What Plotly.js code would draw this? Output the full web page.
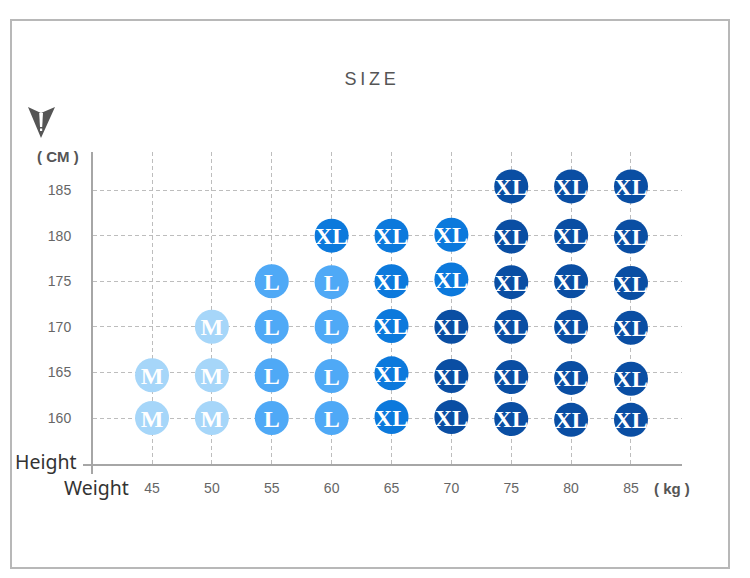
<!DOCTYPE html>
<html>
<head>
<meta charset="utf-8">
<script src="https://cdn.plot.ly/plotly-3.0.1.min.js"></script>
<style>
html,body{margin:0;padding:0;background:#fff}
#chart{width:750px;height:578px}
.gtitle{letter-spacing:3.8px}
.textpoint text{transform:translateY(2.5px)}
</style>
</head>
<body>
<div id="chart"></div>
<script>
const chartTitle = 'SIZE';
const xTicks = [45,50,55,60,65,70,75,80,85];
const yTicks = [160,165,170,175,180,185];

const mWeight = [45,45,50,50,50];
const mHeight = [164.7,160,170,164.7,160];

const lWeight = [55,55,55,55,60,60,60,60];
const lHeight = [175,170,164.7,160,174.9,170,164.6,160];

const xlWeight = [60,65,65,65,65,65,70,70];
const xlHeight = [180,180,175,170.1,164.9,160.1,180.1,175.2];

const xxlWeight = [70,70,70,75,75,75,75,75,75,80,80,80,80,80,80,85,85,85,85,85,85];
const xxlHeight = [170,164.6,160.1,185.4,179.9,174.9,170,164.5,159.9,185.4,180,175,170,164.4,159.8,185.4,179.9,174.8,169.9,164.3,159.8];

const W=750,H=578,mL=93,mR=68,mT=152,mB=114;
const px=x=>(x-mL)/(W-mL-mR), py=y=>1-(y-mT)/(H-mT-mB);
const series=(x,y,label,color)=>({type:'scatter',mode:'markers+text',x,y,
  text:x.map(()=>label),textposition:'middle center',cliponaxis:false,
  textfont:{family:'"Liberation Serif",serif',size:24,color:'#fff',weight:'bold'},
  marker:{size:34,color,line:{width:0}},hoverinfo:'skip',showlegend:false});
const data=[
  series(mWeight,mHeight,'M','#a6d6f9'),
  series(lWeight,lHeight,'L','#4fa9f6'),
  series(xlWeight,xlHeight,'XL','#0c79dc'),
  series(xxlWeight,xxlHeight,'XL','#0a4ea3')
];
const note=(text,x,y,size,color,weight,family)=>({text,xref:'paper',yref:'paper',x:px(x),y:py(y),
  xanchor:'center',yanchor:'middle',showarrow:false,
  font:{size,color,weight:weight||'normal',family:family||'"Liberation Sans",Arial,sans-serif'}});
const line=(x0,y0,x1,y1,color,width)=>({type:'line',xref:'paper',yref:'paper',layer:'below',
  x0:px(x0),y0:py(y0),x1:px(x1),y1:py(y1),line:{color,width}});
const poly=(pts,color)=>({type:'path',xref:'paper',yref:'paper',fillcolor:color,line:{width:0},
  path:'M'+pts.map(p=>px(p[0]).toFixed(5)+','+py(p[1]).toFixed(5)).join('L')+'Z'});
const grid={showgrid:true,gridcolor:'#bdbdbd',griddash:'4px,3px',gridwidth:1,zeroline:false,
  showline:true,linecolor:'#a6a6a6',linewidth:2,ticks:'outside',tickcolor:'rgba(0,0,0,0)',
  tickfont:{family:'"Liberation Sans",Arial,sans-serif',size:14,color:'#666'}};
const layout={
  width:W,height:H,paper_bgcolor:'#fff',plot_bgcolor:'#fff',showlegend:false,
  margin:{l:mL,r:mR,t:mT,b:mB,pad:0},
  title:{text:chartTitle,x:372/W,xanchor:'center',y:1-79/H,yanchor:'middle',
    font:{family:'"Liberation Sans",Arial,sans-serif',size:18,color:'#555'}},
  xaxis:{...grid,range:[40.07,89.26],tickmode:'array',tickvals:xTicks,ticktext:xTicks.map(String),ticklen:10},
  yaxis:{...grid,range:[154.96,189.17],tickmode:'array',tickvals:yTicks,ticktext:yTicks.map(String),ticklen:17},
  shapes:[
    {type:'rect',xref:'paper',yref:'paper',layer:'below',x0:px(11),y0:py(20),x1:px(729),y1:py(568),
      line:{color:'#b8b8b8',width:2},fillcolor:'rgba(0,0,0,0)'},
    line(83,465,92,465,'#a6a6a6',2),
    line(92,465,92,474,'#a6a6a6',2),
    poly([[28,107],[41,113],[55,107],[41,138]],'#555'),
    poly([[39.2,113],[43,113],[42.2,127],[40,127]],'#fff'),
    poly([[40,128.5],[42.2,128.5],[42.2,131],[40,131]],'#fff')
  ],
  annotations:[
    note('( CM )',58,157,15,'#555','bold'),
    note('( kg )',672,488,15,'#555','bold'),
    note('Height',45.5,461,19.5,'#333','normal','"Noto Sans",sans-serif'),
    note('Weight',96,487,19.5,'#333','normal','"Noto Sans",sans-serif')
  ]
};
Plotly.newPlot('chart',data,layout,{displayModeBar:false,staticPlot:true});
</script>
</body>
</html>
